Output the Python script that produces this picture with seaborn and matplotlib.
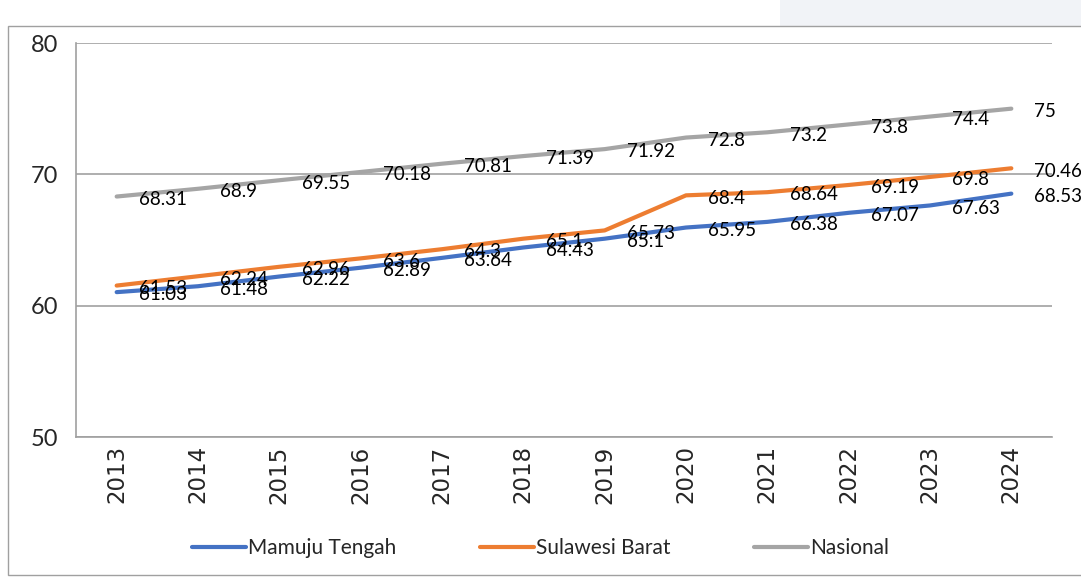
import pandas as pd
import matplotlib.pyplot as plt
import matplotlib.patches as mpatches
import seaborn as sns

years = ['2013', '2014', '2015', '2016', '2017', '2018', '2019', '2020', '2021', '2022', '2023', '2024']
mamuju_tengah = [61.03, 61.48, 62.22, 62.89, 63.64, 64.43, 65.1, 65.95, 66.38, 67.07, 67.63, 68.53]
sulawesi_barat = [61.53, 62.24, 62.96, 63.6, 64.3, 65.1, 65.73, 68.4, 68.64, 69.19, 69.8, 70.46]
nasional = [68.31, 68.9, 69.55, 70.18, 70.81, 71.39, 71.92, 72.8, 73.2, 73.8, 74.4, 75]
series_names = ['Mamuju Tengah', 'Sulawesi Barat', 'Nasional']
colors = ['#4472C4', '#ED7D31', '#A5A5A5']

rows = []
for name, vals in zip(series_names, [mamuju_tengah, sulawesi_barat, nasional]):
    for i, v in enumerate(vals):
        rows.append({'idx': i, 'year': years[i], 'value': v, 'series': name})
df = pd.DataFrame(rows)

sns.set_style('white')
plt.rcParams['font.family'] = ['Lato', 'DejaVu Sans']

fig = plt.figure(figsize=(10.81, 5.8), dpi=100)
# chart area border and light background in the corner
fig.patches.append(mpatches.Rectangle((780 / 1081, 1 - 26 / 580), 1, 26 / 580, transform=fig.transFigure,
                                      facecolor='#f1f3f7', edgecolor='none', zorder=0))
fig.patches.append(mpatches.Rectangle((8 / 1081, 5 / 580), 1.1, (575 - 26) / 580, transform=fig.transFigure,
                                      facecolor='white', edgecolor='#a0a0a0', lw=1.0, zorder=1))

ax = fig.add_axes([76 / 1081, 1 - 437 / 580, (1052 - 76) / 1081, (437 - 43) / 580])
ax.set_zorder(2)
ax.patch.set_alpha(0)

sns.lineplot(data=df, x='idx', y='value', hue='series', hue_order=series_names,
             palette=colors, linewidth=3, ax=ax, legend=False, zorder=3)

for name, vals in zip(series_names, [mamuju_tengah, sulawesi_barat, nasional]):
    for i, v in enumerate(vals):
        ax.annotate(f'{v:g}', (i, v), xytext=(16, -2), textcoords='offset points',
                    ha='left', va='center', fontsize=13.5, color='black', zorder=5)

ax.set_ylim(50, 80)
ax.set_yticks([50, 60, 70, 80])
ax.set_yticklabels(['50', '60', '70', '80'], fontsize=17)
ax.set_xlim(-0.5, len(years) - 0.5)
ax.set_xticks(range(len(years)))
ax.set_xticklabels(years, rotation=90, fontsize=16.5, family=['DejaVu Sans'])
ax.set_xticks([i - 0.5 for i in range(len(years) + 1)], minor=True)
ax.tick_params(axis='x', which='major', length=0, pad=6)
ax.tick_params(axis='x', which='minor', length=7, color='#a0a0a0', width=1)
ax.tick_params(axis='y', length=7, color='#a0a0a0', width=1, pad=6)
ax.yaxis.grid(True, color='#a8a8a8', lw=1.3)
ax.set_axisbelow(True)
ax.set_xlabel('')
ax.set_ylabel('')
for s in ['top', 'right']:
    ax.spines[s].set_visible(False)
for s in ['left', 'bottom']:
    ax.spines[s].set_color('#a0a0a0')
    ax.spines[s].set_linewidth(1.2)

handles = [plt.Line2D([], [], color=c, lw=3) for c in colors]
fig.legend(handles, series_names, loc='center', bbox_to_anchor=(0.5, 1 - 548 / 580), ncol=3,
           frameon=False, fontsize=15, handlelength=2.6,
           handletextpad=0.1, columnspacing=4.0)

plt.savefig('out.png', dpi=100)
